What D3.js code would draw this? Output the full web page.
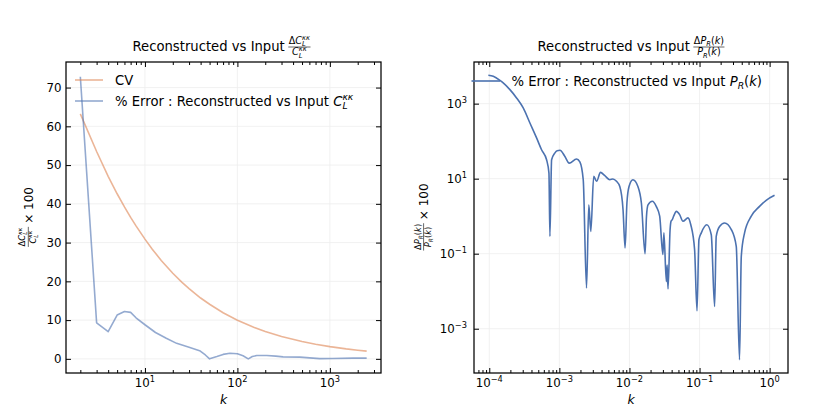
<!DOCTYPE html>
<html lang="en">
<head>
<meta charset="utf-8" />
<title>Reconstructed vs Input</title>
<script src="https://d3js.org/d3.v7.min.js"></script>
<style>
  body { margin: 0; background: #fff; }
  svg { font-family: "DejaVu Sans", sans-serif; fill: #000; }
  .frame { fill: none; stroke: #000; stroke-width: 1.25; }
  .grid line { stroke: #ededed; stroke-width: 0.8; }
  .tk path { display: none; }
  .tk line { stroke: #000; stroke-width: 1; }
</style>
</head>
<body>
<svg id="fig" width="830" height="415"></svg>
<script>
// left panel: % error on C_L^kk and the cosmic variance, vs multipole
var ellErr = [2, 3, 4, 5, 6, 7, 8, 10, 13, 17, 22, 30, 39, 45, 50, 60, 70, 83, 100, 115, 131, 145, 162, 208, 260, 312, 474, 776, 1070, 1770, 2500];
var pctErr = [72.8, 9.3, 7.0, 11.3, 12.2, 12.0, 10.6, 8.8, 6.8, 5.3, 4.0, 3.0, 2.1, 1.0, 0.0, 0.6, 1.15, 1.45, 1.3, 0.8, 0.0, 0.6, 0.85, 0.85, 0.7, 0.5, 0.45, 0.05, 0.1, 0.2, 0.2];
var ellCV = [2, 3, 4, 5, 6, 7, 8, 10, 12, 15, 20, 25, 30, 40, 50, 70, 100, 150, 200, 300, 500, 700, 1000, 1500, 2000, 2500];
var cvVals = [63.2, 53.5, 47.1, 42.6, 39.2, 36.5, 34.3, 30.9, 28.3, 25.4, 22.1, 19.8, 18.1, 15.7, 14.1, 11.9, 9.98, 8.15, 7.06, 5.77, 4.47, 3.78, 3.16, 2.58, 2.24, 2.0];
var yTicksL = [0, 10, 20, 30, 40, 50, 60, 70];
var xExpL = [1, 2, 3];

// right panel: % error on P_R(k)
var kVals = [9.7e-5, 1.14e-4, 1.42e-4, 1.58e-4, 1.97e-4, 2.45e-4, 3.05e-4, 3.8e-4, 4.73e-4, 5.57e-4, 6.57e-4, 7.1e-4, 7.33e-4, 7.75e-4, 8.6e-4, 9.3e-4,
  1.02e-3, 1.2e-3, 1.38e-3, 1.76e-3, 1.96e-3, 2.19e-3, 2.44e-3, 2.63e-3, 2.81e-3, 3.09e-3, 3.4e-3, 3.86e-3,
  4.45e-3, 5.25e-3, 5.8e-3, 6.53e-3, 7.28e-3, 8.1e-3, 8.66e-3, 9.2e-3, 9.86e-3, 1.12e-2, 1.32e-2, 1.48e-2,
  1.67e-2, 1.75e-2, 1.84e-2, 2.12e-2, 2.42e-2, 2.7e-2, 3.0e-2, 3.1e-2, 3.36e-2, 3.45e-2, 3.55e-2, 3.8e-2,
  3.92e-2, 4.08e-2, 4.27e-2, 4.67e-2, 5.2e-2, 5.8e-2, 6.84e-2, 7.5e-2, 8.5e-2, 9.2e-2, 9.8e-2, 0.106,
  0.127, 0.147, 0.164, 0.173, 0.193, 0.228, 0.284, 0.334, 0.372, 0.394, 0.439, 0.547, 0.718, 0.893, 1.175];
var pkErr = [5700, 5350, 4170, 3570, 2360, 1420, 767, 305, 122, 59, 32, 14, 0.29, 32, 48, 55.8,
  57, 39, 26, 33.5, 28, 9.4, 0.0122, 2.0, 0.39, 11.5, 8.5, 14.7,
  12, 9.4, 9.8, 8.5, 6.2, 1.49, 0.142, 2.25, 6.2, 9.4, 6.2, 2.25,
  0.1, 1.0, 2.0, 2.5, 1.8, 1.0, 0.095, 0.36, 0.018, 0.05, 0.0115, 0.44,
  0.73, 0.81, 1.0, 1.34, 1.1, 0.73, 0.9, 0.59, 0.128, 0.003, 0.236, 0.36,
  0.59, 0.32, 0.0039, 0.29, 0.53, 0.66, 0.44, 0.157, 1.49e-4, 0.085, 0.36, 1.0, 1.82, 2.65, 3.6];
var xExpR = [-4, -3, -2, -1, 0];
var yExpR = [-3, -1, 1, 3];

var blue = "#4c72b0", orange = "#dd8452";
var svg = d3.select("#fig");
var L = {x0: 66, x1: 381, y0: 62, y1: 373};
var R = {x0: 474, x1: 788, y0: 62, y1: 373};

var xL = d3.scaleLog().domain([Math.pow(10, 0.146), Math.pow(10, 3.553)]).range([L.x0, L.x1]);
var yL = d3.scaleLinear().domain([-3.65, 76.6]).range([L.y1, L.y0]);
var xR = d3.scaleLog().domain([Math.pow(10, -4.218), Math.pow(10, 0.262)]).range([R.x0, R.x1]);
var yR = d3.scaleLog().domain([Math.pow(10, -4.18), Math.pow(10, 4.11)]).range([R.y1, R.y0]);

// text with italic / sub / sup pieces. flags: i italic, b sub, p sup, r stack on previous
function rich(sel, parts, fs) {
  var cur = 0, prevW = 0;
  parts.forEach(function(p) {
    var f = p[1] || "";
    var small = f.indexOf("b") >= 0 || f.indexOf("p") >= 0;
    var off = f.indexOf("p") >= 0 ? -0.42 * fs : (f.indexOf("b") >= 0 ? 0.22 * fs : 0);
    var t = sel.append("tspan").text(p[0]).attr("font-size", small ? fs * 0.7 : fs).attr("dy", off - cur);
    if (f.indexOf("i") >= 0) t.attr("font-style", "italic");
    if (f.indexOf("r") >= 0) t.attr("dx", -prevW);
    prevW = t.node().getComputedTextLength();
    cur = off;
  });
}

// stacked fraction, bar at y=yBar starting at x; returns width
function frac(g, x, yBar, num, den, fs) {
  var n = g.append("text").attr("y", yBar - 0.34 * fs);
  rich(n, num, fs);
  var d = g.append("text").attr("y", yBar + fs * 0.88);
  rich(d, den, fs);
  var wn = n.node().getBBox().width, wd = d.node().getBBox().width;
  var w = Math.max(wn, wd) + 1;
  n.attr("x", x + (w - wn) / 2);
  d.attr("x", x + (w - wd) / 2);
  g.append("line").attr("x1", x).attr("x2", x + w).attr("y1", yBar).attr("y2", yBar)
    .attr("stroke", "#000").attr("stroke-width", 0.6);
  return w;
}

// "text" + fraction (+ tail), centred at cx, baseline 0 inside g
function labelWithFrac(g, cx, before, num, den, after, fs, ffs, barUp) {
  var inner = g.append("g");
  var w = 0;
  if (before) {
    var t = inner.append("text").attr("x", 0).attr("y", 0).attr("font-size", fs).text(before);
    w = t.node().getBBox().width + 3.5;
  }
  w += frac(inner, w, -barUp, num, den, ffs);
  if (after) {
    var t2 = inner.append("text").attr("x", w + 3).attr("y", 0).attr("font-size", fs).text(after);
    w += 3 + t2.node().getBBox().width;
  }
  inner.attr("transform", "translate(" + (cx - w / 2) + ",0)");
}

var CLkk = [["C", "i"], ["L", "ib"], ["κκ", "ipr"]];
var dCLkk = [["Δ", ""]].concat(CLkk);
var PRk = [["P", "i"], ["R", "ib"], ["(", ""], ["k", "i"], [")", ""]];
var dPRk = [["Δ", ""]].concat(PRk);

function ticks(g, axisFn, scale, tx, ty, values, size) {
  g.append("g").attr("class", "tk").attr("transform", "translate(" + tx + "," + ty + ")")
    .call(axisFn(scale).tickValues(values).tickFormat("").tickSizeInner(-size).tickSizeOuter(0));
}

function minorLog(lo, hi, scale) {
  var out = [], d = scale.domain();
  for (var e = lo; e <= hi; e++) for (var m = 2; m <= 9; m++) {
    var v = m * Math.pow(10, e);
    if (v >= d[0] && v <= d[1]) out.push(v);
  }
  return out;
}

function clip(id, A) {
  svg.append("clipPath").attr("id", id).append("rect")
    .attr("x", A.x0).attr("y", A.y0).attr("width", A.x1 - A.x0).attr("height", A.y1 - A.y0);
}
clip("cL", L); clip("cR", R);

// ---------- left panel ----------
var gL = svg.append("g");
var gridL = gL.append("g").attr("class", "grid");
xExpL.forEach(function(e) {
  gridL.append("line").attr("x1", xL(Math.pow(10, e))).attr("x2", xL(Math.pow(10, e))).attr("y1", L.y0).attr("y2", L.y1);
});
yTicksL.forEach(function(v) {
  gridL.append("line").attr("x1", L.x0).attr("x2", L.x1).attr("y1", yL(v)).attr("y2", yL(v));
});

var lineL = function(xs, ys) {
  return d3.line().x(function(d, i) { return xL(xs[i]); }).y(function(d, i) { return yL(ys[i]); })(xs);
};
gL.append("path").attr("clip-path", "url(#cL)").attr("d", lineL(ellCV, cvVals))
  .attr("fill", "none").attr("stroke", orange).attr("stroke-opacity", 0.6).attr("stroke-width", 1.6);
gL.append("path").attr("clip-path", "url(#cL)").attr("d", lineL(ellErr, pctErr))
  .attr("fill", "none").attr("stroke", blue).attr("stroke-opacity", 0.6).attr("stroke-width", 1.6)
  .attr("stroke-linejoin", "round");

var majL = xExpL.map(function(e) { return Math.pow(10, e); });
var minL = minorLog(0, 3, xL);
[[d3.axisBottom, L.y1], [d3.axisTop, L.y0]].forEach(function(a) {
  ticks(gL, a[0], xL, 0, a[1], majL, 5);
  ticks(gL, a[0], xL, 0, a[1], minL, 3);
});
ticks(gL, d3.axisLeft, yL, L.x0, 0, yTicksL, 5);
ticks(gL, d3.axisRight, yL, L.x1, 0, yTicksL, 5);
gL.append("rect").attr("class", "frame").attr("x", L.x0).attr("y", L.y0)
  .attr("width", L.x1 - L.x0).attr("height", L.y1 - L.y0);

yTicksL.forEach(function(v) {
  gL.append("text").attr("x", L.x0 - 4.5).attr("y", yL(v) + 4.3).attr("text-anchor", "end")
    .attr("font-size", 11.8).text(v);
});
xExpL.forEach(function(e) {
  var t = gL.append("text").attr("x", xL(Math.pow(10, e))).attr("y", 387).attr("text-anchor", "middle").attr("font-size", 11.8);
  rich(t, [["10", ""], [String(e), "p"]], 11.8);
});

// legend
var legL = [{c: orange, y: 80, parts: [["CV", ""]]},
            {c: blue, y: 101, parts: [["% Error : Reconstructed vs Input ", ""]].concat(CLkk)}];
legL.forEach(function(l) {
  gL.append("line").attr("x1", 75).attr("x2", 103).attr("y1", l.y).attr("y2", l.y)
    .attr("stroke", l.c).attr("stroke-opacity", 0.6).attr("stroke-width", 1.6);
  var t = gL.append("text").attr("x", 115).attr("y", l.y + 4.7).attr("font-size", 13.2);
  rich(t, l.parts, 13.2);
});

labelWithFrac(gL.append("g").attr("transform", "translate(0,51)"), (L.x0 + L.x1) / 2 - 2,
  "Reconstructed vs Input", dCLkk, CLkk, null, 13.2, 9.6, 4);
labelWithFrac(gL.append("g").attr("transform", "translate(32.7,217) rotate(-90)"), 0,
  null, dCLkk, CLkk, "× 100", 12, 8.4, 4.4);
gL.append("text").attr("x", (L.x0 + L.x1) / 2).attr("y", 404).attr("text-anchor", "middle")
  .attr("font-size", 12.5).attr("font-style", "italic").text("k");

// ---------- right panel ----------
var gR = svg.append("g");
var gridR = gR.append("g").attr("class", "grid");
xExpR.forEach(function(e) {
  gridR.append("line").attr("x1", xR(Math.pow(10, e))).attr("x2", xR(Math.pow(10, e))).attr("y1", R.y0).attr("y2", R.y1);
});
yExpR.forEach(function(e) {
  gridR.append("line").attr("x1", R.x0).attr("x2", R.x1).attr("y1", yR(Math.pow(10, e))).attr("y2", yR(Math.pow(10, e)));
});

gR.append("path").attr("clip-path", "url(#cR)")
  .attr("d", d3.line().curve(d3.curveMonotoneX)
    .x(function(d, i) { return xR(kVals[i]); }).y(function(d, i) { return yR(pkErr[i]); })(kVals))
  .attr("fill", "none").attr("stroke", blue).attr("stroke-width", 1.6).attr("stroke-linejoin", "round");

var majR = xExpR.map(function(e) { return Math.pow(10, e); });
var minR = minorLog(-5, 0, xR);
[[d3.axisBottom, R.y1], [d3.axisTop, R.y0]].forEach(function(a) {
  ticks(gR, a[0], xR, 0, a[1], majR, 5);
  ticks(gR, a[0], xR, 0, a[1], minR, 3);
});
var yMajR = yExpR.map(function(e) { return Math.pow(10, e); });
ticks(gR, d3.axisLeft, yR, R.x0, 0, yMajR, 5);
ticks(gR, d3.axisRight, yR, R.x1, 0, yMajR, 5);
gR.append("rect").attr("class", "frame").attr("x", R.x0).attr("y", R.y0)
  .attr("width", R.x1 - R.x0).attr("height", R.y1 - R.y0);

yExpR.forEach(function(e) {
  var t = gR.append("text").attr("x", R.x0 - 7).attr("y", yR(Math.pow(10, e)) + 4.3).attr("text-anchor", "end").attr("font-size", 11.8);
  rich(t, [["10", ""], [e < 0 ? "−" + (-e) : String(e), "p"]], 11.8);
});
xExpR.forEach(function(e) {
  var t = gR.append("text").attr("x", xR(Math.pow(10, e))).attr("y", 387).attr("text-anchor", "middle").attr("font-size", 11.8);
  rich(t, [["10", ""], [e < 0 ? "−" + (-e) : String(e), "p"]], 11.8);
});

// legend
gR.append("line").attr("x1", 471.5).attr("x2", 500).attr("y1", 81).attr("y2", 81)
  .attr("stroke", blue).attr("stroke-width", 1.6);
var lt = gR.append("text").attr("x", 511.5).attr("y", 85.7).attr("font-size", 13.2);
rich(lt, [["% Error : Reconstructed vs Input ", ""]].concat(PRk), 13.2);

labelWithFrac(gR.append("g").attr("transform", "translate(0,51)"), (R.x0 + R.x1) / 2,
  "Reconstructed vs Input", dPRk, PRk, null, 13.2, 9.6, 4);
labelWithFrac(gR.append("g").attr("transform", "translate(428,217) rotate(-90)"), 0,
  null, dPRk, PRk, "× 100", 12, 8.4, 4.4);
gR.append("text").attr("x", (R.x0 + R.x1) / 2).attr("y", 404).attr("text-anchor", "middle")
  .attr("font-size", 12.5).attr("font-style", "italic").text("k");
</script>
</body>
</html>
